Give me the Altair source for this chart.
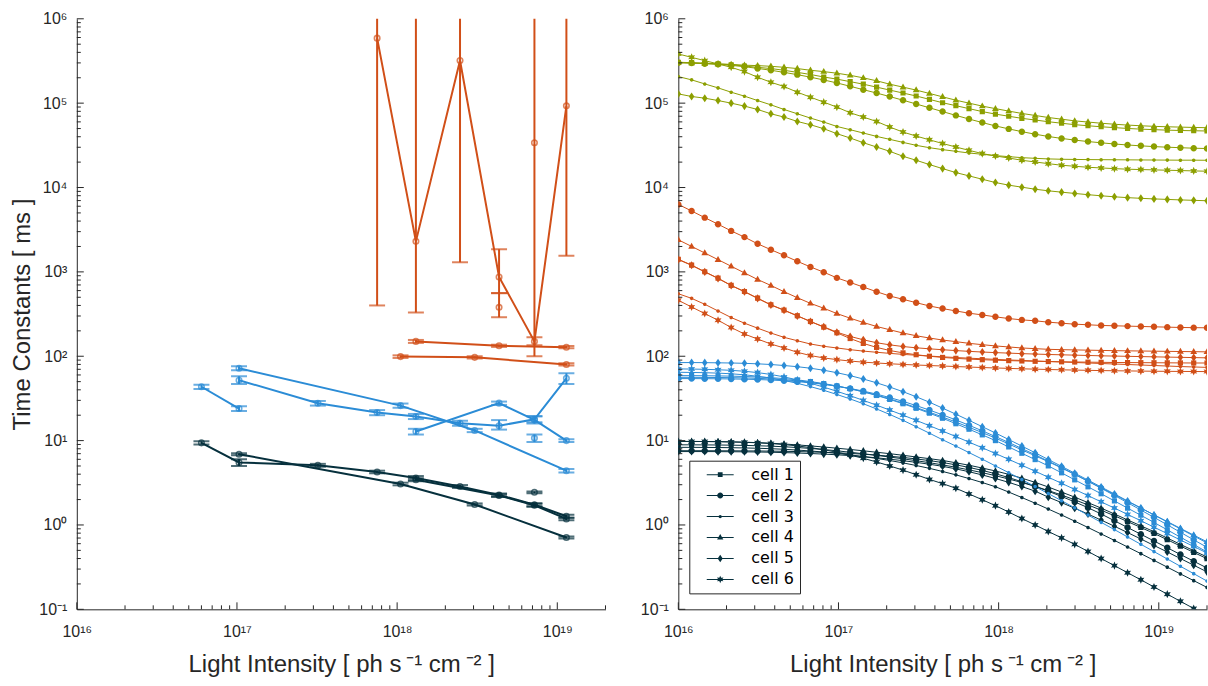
import math
import altair as alt
import pandas as pd

DARK = "#06303d"
BLUE = "#2b8cd6"
ORANGE = "#d14f18"
GREEN = "#8c9f00"
AX = "#262626"

CELLS = ["cell 1", "cell 2", "cell 3", "cell 4", "cell 5", "cell 6"]

# ---------------- right panel: sampled light intensities (log10) ----------------
X_EXP = [16.000, 16.083, 16.165, 16.248, 16.330, 16.413, 16.495, 16.578, 16.660, 16.743,
         16.825, 16.908, 16.990, 17.073, 17.155, 17.238, 17.320, 17.403, 17.485, 17.568,
         17.650, 17.733, 17.815, 17.898, 17.980, 18.063, 18.145, 18.228, 18.310, 18.393,
         18.475, 18.558, 18.640, 18.723, 18.805, 18.888, 18.970, 19.053, 19.135, 19.218, 19.301]

# log10 of time constants [ms]
GREEN_LOG = {
    "cell 1": [5.485, 5.48, 5.475, 5.465, 5.455, 5.44, 5.425, 5.41, 5.39, 5.365, 5.34,
               5.31, 5.285, 5.255, 5.225, 5.19, 5.155, 5.12, 5.085, 5.045, 5.005,
               4.97, 4.935, 4.90, 4.87, 4.845, 4.82, 4.80, 4.78, 4.762, 4.745,
               4.732, 4.72, 4.71, 4.70, 4.692, 4.686, 4.68, 4.676, 4.673, 4.67],
    "cell 2": [5.48, 5.475, 5.468, 5.46, 5.448, 5.432, 5.412, 5.39, 5.365, 5.338, 5.308,
               5.275, 5.24, 5.2, 5.16, 5.12, 5.078, 5.035, 4.99, 4.945, 4.90,
               4.855, 4.812, 4.77, 4.73, 4.695, 4.662, 4.632, 4.605, 4.582, 4.562,
               4.545, 4.53, 4.516, 4.504, 4.494, 4.485, 4.478, 4.472, 4.466, 4.462],
    "cell 3": [5.315, 5.276, 5.228, 5.181, 5.13, 5.083, 5.031, 4.98, 4.925, 4.874, 4.823,
               4.776, 4.724, 4.685, 4.646, 4.606, 4.571, 4.535, 4.5, 4.472, 4.449,
               4.429, 4.409, 4.394, 4.378, 4.366, 4.354, 4.346, 4.339, 4.335, 4.333,
               4.331, 4.33, 4.329, 4.328, 4.327, 4.326, 4.325, 4.324, 4.324, 4.323],
    "cell 4": [5.48, 5.475, 5.47, 5.465, 5.46, 5.45, 5.445, 5.437, 5.425, 5.41, 5.39,
               5.374, 5.355, 5.33, 5.30, 5.265, 5.225, 5.19, 5.155, 5.115, 5.075,
               5.035, 5.0, 4.965, 4.935, 4.906, 4.878, 4.854, 4.83, 4.81, 4.79,
               4.776, 4.762, 4.75, 4.74, 4.732, 4.725, 4.72, 4.716, 4.712, 4.709],
    "cell 5": [5.11, 5.079, 5.059, 5.031, 5.0, 4.965, 4.925, 4.874, 4.835, 4.783, 4.744,
               4.697, 4.638, 4.587, 4.531, 4.48, 4.429, 4.37, 4.323, 4.272, 4.224,
               4.177, 4.138, 4.098, 4.059, 4.028, 4.004, 3.98, 3.961, 3.945, 3.93,
               3.915, 3.902, 3.89, 3.88, 3.872, 3.865, 3.859, 3.853, 3.848, 3.843],
    "cell 6": [5.583, 5.543, 5.504, 5.465, 5.425, 5.374, 5.307, 5.248, 5.197, 5.13, 5.071,
               5.012, 4.953, 4.886, 4.835, 4.783, 4.717, 4.657, 4.61, 4.565, 4.522,
               4.48, 4.441, 4.402, 4.374, 4.35, 4.323, 4.303, 4.283, 4.264, 4.252,
               4.24, 4.232, 4.224, 4.217, 4.213, 4.209, 4.205, 4.201, 4.197, 4.193],
}

ORANGE_LOG = {
    "cell 1": [3.15, 3.08, 3.002, 2.925, 2.84, 2.767, 2.688, 2.61, 2.547, 2.48, 2.412,
               2.345, 2.278, 2.21, 2.152, 2.105, 2.068, 2.04, 2.018, 2.0, 1.986,
               1.975, 1.966, 1.959, 1.953, 1.948, 1.944, 1.94, 1.937, 1.934, 1.932,
               1.93, 1.928, 1.926, 1.925, 1.924, 1.923, 1.922, 1.921, 1.92, 1.92],
    "cell 2": [3.8, 3.722, 3.643, 3.565, 3.486, 3.412, 3.333, 3.263, 3.196, 3.125, 3.059,
               2.996, 2.929, 2.875, 2.82, 2.765, 2.714, 2.675, 2.635, 2.596, 2.565,
               2.537, 2.51, 2.49, 2.467, 2.447, 2.431, 2.42, 2.404, 2.392, 2.38,
               2.373, 2.365, 2.361, 2.357, 2.353, 2.349, 2.345, 2.341, 2.339, 2.337],
    "cell 3": [2.741, 2.686, 2.616, 2.537, 2.459, 2.392, 2.333, 2.275, 2.224, 2.184, 2.145,
               2.118, 2.098, 2.078, 2.061, 2.047, 2.034, 2.022, 2.012, 2.002, 1.993,
               1.985, 1.977, 1.97, 1.963, 1.956, 1.95, 1.944, 1.938, 1.932, 1.926,
               1.92, 1.914, 1.908, 1.902, 1.896, 1.89, 1.884, 1.878, 1.873, 1.868],
    "cell 4": [3.38, 3.302, 3.224, 3.145, 3.067, 2.988, 2.91, 2.839, 2.765, 2.694, 2.627,
               2.569, 2.506, 2.451, 2.4, 2.353, 2.314, 2.275, 2.243, 2.216, 2.192,
               2.173, 2.153, 2.137, 2.122, 2.11, 2.098, 2.09, 2.082, 2.078, 2.075,
               2.072, 2.069, 2.066, 2.064, 2.062, 2.06, 2.058, 2.056, 2.054, 2.052],
    "cell 5": [3.145, 3.078, 3.0, 2.922, 2.838, 2.765, 2.686, 2.608, 2.545, 2.478, 2.412,
               2.349, 2.285, 2.235, 2.195, 2.16, 2.135, 2.115, 2.10, 2.088, 2.077,
               2.067, 2.058, 2.05, 2.043, 2.037, 2.031, 2.026, 2.021, 2.017, 2.013,
               2.009, 2.005, 2.002, 1.999, 1.996, 1.993, 1.99, 1.987, 1.984, 1.981],
    "cell 6": [2.663, 2.584, 2.506, 2.427, 2.341, 2.263, 2.204, 2.145, 2.098, 2.047, 2.008,
               1.98, 1.96, 1.943, 1.93, 1.92, 1.911, 1.903, 1.896, 1.89, 1.884,
               1.878, 1.872, 1.866, 1.861, 1.856, 1.851, 1.847, 1.843, 1.839, 1.836,
               1.833, 1.83, 1.828, 1.826, 1.824, 1.822, 1.821, 1.82, 1.819, 1.818],
}

BLUE_LOG = {
    "cell 1": [1.77, 1.77, 1.769, 1.767, 1.764, 1.76, 1.754, 1.746, 1.735, 1.72, 1.70,
               1.676, 1.648, 1.615, 1.577, 1.535, 1.488, 1.437, 1.383, 1.325, 1.265,
               1.20, 1.135, 1.068, 1.0, 0.925, 0.85, 0.775, 0.70, 0.618, 0.535,
               0.452, 0.37, 0.285, 0.2, 0.115, 0.03, -0.058, -0.145, -0.232, -0.32],
    "cell 2": [1.735, 1.735, 1.734, 1.733, 1.731, 1.728, 1.724, 1.718, 1.71, 1.699, 1.685,
               1.667, 1.645, 1.618, 1.587, 1.551, 1.51, 1.465, 1.415, 1.362, 1.305,
               1.245, 1.182, 1.116, 1.048, 0.978, 0.906, 0.832, 0.757, 0.68, 0.60,
               0.518, 0.435, 0.35, 0.264, 0.177, 0.09, 0.002, -0.087, -0.176, -0.265],
    "cell 3": [1.81, 1.808, 1.805, 1.80, 1.792, 1.78, 1.763, 1.741, 1.713, 1.679, 1.64,
               1.596, 1.547, 1.494, 1.437, 1.375, 1.31, 1.24, 1.165, 1.088, 1.01,
               0.935, 0.858, 0.78, 0.70, 0.62, 0.538, 0.455, 0.372, 0.288, 0.203,
               0.117, 0.031, -0.055, -0.142, -0.229, -0.316, -0.403, -0.49, -0.577, -0.665],
    "cell 4": [1.75, 1.75, 1.749, 1.748, 1.746, 1.743, 1.738, 1.731, 1.721, 1.708, 1.691,
               1.67, 1.645, 1.615, 1.58, 1.54, 1.495, 1.445, 1.392, 1.337, 1.28,
               1.22, 1.158, 1.095, 1.03, 0.96, 0.89, 0.82, 0.75, 0.675, 0.60,
               0.52, 0.44, 0.36, 0.28, 0.20, 0.12, 0.04, -0.04, -0.12, -0.20],
    "cell 5": [1.925, 1.925, 1.924, 1.922, 1.92, 1.916, 1.91, 1.902, 1.89, 1.876, 1.858,
               1.834, 1.805, 1.77, 1.73, 1.685, 1.635, 1.58, 1.52, 1.455, 1.385,
               1.313, 1.24, 1.165, 1.09, 1.013, 0.935, 0.856, 0.776, 0.695, 0.614,
               0.532, 0.45, 0.368, 0.285, 0.202, 0.119, 0.036, -0.047, -0.13, -0.213],
    "cell 6": [1.85, 1.848, 1.845, 1.84, 1.833, 1.822, 1.806, 1.784, 1.755, 1.72, 1.68,
               1.634, 1.585, 1.532, 1.477, 1.42, 1.362, 1.302, 1.24, 1.177, 1.113,
               1.048, 0.982, 0.915, 0.847, 0.778, 0.708, 0.637, 0.566, 0.494, 0.421,
               0.348, 0.274, 0.2, 0.125, 0.05, -0.026, -0.102, -0.178, -0.255, -0.332],
}

DARK_LOG = {
    "cell 1": [0.95, 0.95, 0.949, 0.948, 0.946, 0.943, 0.939, 0.934, 0.927, 0.918, 0.907,
               0.894, 0.879, 0.862, 0.844, 0.825, 0.805, 0.784, 0.762, 0.738, 0.712,
               0.684, 0.653, 0.62, 0.584, 0.545, 0.503, 0.457, 0.408, 0.355, 0.298,
               0.238, 0.175, 0.109, 0.04, -0.03, -0.10, -0.175, -0.25, -0.325, -0.40],
    "cell 2": [0.88, 0.88, 0.88, 0.879, 0.879, 0.878, 0.877, 0.875, 0.873, 0.87, 0.866,
               0.861, 0.855, 0.848, 0.839, 0.828, 0.815, 0.80, 0.783, 0.763, 0.74,
               0.713, 0.682, 0.647, 0.607, 0.562, 0.512, 0.458, 0.40, 0.338, 0.273,
               0.205, 0.13, 0.05, -0.03, -0.11, -0.19, -0.27, -0.35, -0.43, -0.51],
    "cell 3": [0.92, 0.92, 0.919, 0.918, 0.916, 0.913, 0.909, 0.904, 0.897, 0.888, 0.877,
               0.864, 0.849, 0.831, 0.811, 0.789, 0.764, 0.736, 0.705, 0.671, 0.634,
               0.594, 0.55, 0.503, 0.453, 0.39, 0.325, 0.258, 0.189, 0.118, 0.045,
               -0.03, -0.106, -0.183, -0.261, -0.34, -0.42, -0.5, -0.58, -0.66, -0.74],
    "cell 4": [0.99, 0.99, 0.989, 0.988, 0.985, 0.981, 0.976, 0.969, 0.96, 0.949, 0.937,
               0.924, 0.91, 0.895, 0.879, 0.862, 0.845, 0.826, 0.806, 0.786, 0.765,
               0.737, 0.708, 0.675, 0.64, 0.60, 0.555, 0.505, 0.45, 0.39, 0.33,
               0.265, 0.20, 0.13, 0.06, -0.01, -0.08, -0.155, -0.23, -0.305, -0.38],
    "cell 5": [0.87, 0.87, 0.87, 0.869, 0.868, 0.867, 0.865, 0.862, 0.858, 0.853, 0.847,
               0.84, 0.832, 0.822, 0.81, 0.796, 0.78, 0.762, 0.742, 0.72, 0.695,
               0.665, 0.631, 0.593, 0.551, 0.505, 0.455, 0.401, 0.33, 0.265, 0.198,
               0.129, 0.058, -0.015, -0.09, -0.166, -0.243, -0.32, -0.398, -0.477, -0.556],
    "cell 6": [0.99, 0.99, 0.989, 0.987, 0.984, 0.98, 0.974, 0.965, 0.953, 0.937, 0.917,
               0.892, 0.862, 0.828, 0.79, 0.747, 0.70, 0.65, 0.596, 0.54, 0.49,
               0.435, 0.368, 0.299, 0.229, 0.153, 0.076, 0.0, -0.077, -0.153, -0.23,
               -0.314, -0.398, -0.482, -0.566, -0.65, -0.735, -0.82, -0.905, -0.99, -1.075],
}

# ---------------- left panel: fitted constants with error bars ----------------
# (series, colour group, intensities, value, lower, upper)
LEFT_SERIES = [
    ("o_wild", "orange", [7.5e17, 1.31e18, 2.47e18, 4.33e18, 7.2e18, 1.14e19],
     [5.9e5, 2.3e3, 3.2e5, 870, 150, 9.3e4],
     [400, 330, 1300, 560, 135, 1550],
     [2e6, 2e6, 2e6, 1850, 168, 2e6]),
    ("o_iso1", "orange", [4.33e18], [380], [290], [560]),
    ("o_iso2", "orange", [7.2e18], [3.4e4], [100], [2e6]),
    ("o_1", "orange", [1.31e18, 4.33e18, 1.14e19], [150, 133, 128], [144, 129, 124], [156, 137, 132]),
    ("o_2", "orange", [1.05e18, 3.05e18, 1.14e19], [99, 97, 80], [95.5, 94, 77.5], [102.5, 100, 82.5]),
    ("b_a", "blue", [6.0e16, 1.03e17], [43.5, 24], [41, 22.5], [46, 25.5]),
    ("b_b", "blue", [1.03e17, 1.05e18, 3.05e18, 1.14e19], [72, 26, 13.2, 4.4],
     [68, 24.5, 12.6, 4.2], [76, 27.5, 13.8, 4.6]),
    ("b_c", "blue", [1.03e17, 3.2e17, 7.5e17, 1.31e18, 2.47e18, 4.33e18, 7.2e18, 1.14e19],
     [52, 27.7, 21.5, 19.3, 16.1, 15, 17.9, 54.8],
     [47, 26, 20, 18, 15, 13.5, 16.5, 47],
     [58, 29.5, 23, 20.7, 17.2, 17.5, 19.5, 63]),
    ("b_d", "blue", [1.31e18, 4.33e18, 7.2e18, 1.14e19], [12.8, 27.8, 17.6, 10],
     [11.8, 26.5, 16, 9.6], [13.8, 29, 19.5, 10.4]),
    ("b_iso", "blue", [7.2e18], [10.7], [9.6], [11.8]),
    ("d_a", "dark", [6.0e16, 1.03e17, 3.2e17, 7.5e17, 1.31e18, 2.47e18, 4.33e18, 7.2e18, 1.14e19],
     [9.4, 5.5, 5.1, 4.25, 3.6, 2.86, 2.27, 1.74, 1.27],
     [9.0, 5.0, 4.9, 4.1, 3.4, 2.75, 2.18, 1.67, 1.22],
     [9.8, 6.0, 5.3, 4.4, 3.8, 2.97, 2.36, 1.81, 1.32]),
    ("d_b", "dark", [1.03e17, 1.05e18, 3.05e18, 1.14e19], [6.9, 3.06, 1.75, 0.71],
     [6.7, 2.95, 1.7, 0.69], [7.1, 3.17, 1.8, 0.73]),
    ("d_c", "dark", [1.31e18, 4.33e18, 7.2e18, 1.14e19], [3.44, 2.23, 1.71, 1.18],
     [3.3, 2.15, 1.64, 1.14], [3.58, 2.31, 1.78, 1.22]),
    ("d_iso", "dark", [7.2e18], [2.44], [2.38], [2.5]),
]

# ---------------- build tables ----------------
right_rows = []
for grp, table in [("dark", DARK_LOG), ("blue", BLUE_LOG), ("orange", ORANGE_LOG), ("green", GREEN_LOG)]:
    for cell, vals in table.items():
        for xe, v in zip(X_EXP, vals):
            right_rows.append({"x": 10 ** xe, "tau": 10 ** v, "group": grp,
                               "cell": cell, "series": grp + "-" + cell})
right_df = pd.DataFrame(right_rows)

left_rows = []
for name, grp, xs, ys, los, his in LEFT_SERIES:
    for x, y, lo, hi in zip(xs, ys, los, his):
        left_rows.append({"x": x, "tau": y, "lo": lo, "hi": hi, "group": grp, "series": name})
left_df = pd.DataFrame(left_rows)

Y_MAJOR = [0.1, 1, 10, 100, 1e3, 1e4, 1e5, 1e6]
Y_MINOR = [m * 10.0 ** e for e in range(-1, 6) for m in range(2, 10)]
X_MAJOR = [1e16, 1e17, 1e18, 1e19]
X_MINOR = [m * 10.0 ** e for e in range(16, 19) for m in range(2, 10)] + [2e19]

SUP = str.maketrans("-0123456789", "⁻⁰¹²³⁴⁵⁶⁷⁸⁹")


def label_expr(exps):
    parts = [f"round(log(datum.value)/LN10) == {e} ? '10{str(e).translate(SUP)}'" for e in exps[:-1]]
    return " : ".join(parts) + f" : '10{str(exps[-1]).translate(SUP)}'"


W, H = 530, 592
FONT = "Liberation Sans"
TICK_FS = 16
TITLE_FS = 24

xscale = alt.Scale(type="log", domain=[1e16, 2e19], nice=False)
yscale = alt.Scale(type="log", domain=[0.1, 1e6], nice=False)
color_scale = alt.Scale(domain=["dark", "blue", "orange", "green"], range=[DARK, BLUE, ORANGE, GREEN])


def x_axis():
    return alt.Axis(values=X_MAJOR, labelExpr=label_expr([16, 17, 18, 19]), ticks=False, grid=False,
                    domainColor=AX, domainWidth=1, labelColor=AX, labelFont=FONT, labelFontSize=TICK_FS,
                    labelPadding=14, labelFlush=False, labelOverlap=False,
                    title="Light Intensity [ ph s\u2009⁻¹ cm\u2009⁻² ]", titleFont=FONT, titleFontSize=TITLE_FS,
                    titleFontWeight="normal", titleColor=AX, titlePadding=13)


def y_axis(with_title):
    kw = dict(values=Y_MAJOR, labelExpr=label_expr([-1, 0, 1, 2, 3, 4, 5, 6]), ticks=False, grid=False,
              domainColor=AX, domainWidth=1, labelColor=AX, labelFont=FONT, labelFontSize=TICK_FS,
              labelPadding=10, labelFlush=False, labelOverlap=False)
    if with_title:
        kw.update(title="Time Constants [ ms ]", titleFont=FONT, titleFontSize=TITLE_FS,
                  titleFontWeight="normal", titleColor=AX, titlePadding=4)
    else:
        kw.update(title="")
    return alt.Axis(**kw)


def tick_layers():
    ymaj = alt.Chart(pd.DataFrame({"v": Y_MAJOR})).mark_rule(color=AX, strokeWidth=1).encode(
        y=alt.Y("v:Q", scale=yscale), x=alt.value(0), x2=alt.value(7))
    ymin = alt.Chart(pd.DataFrame({"v": Y_MINOR})).mark_rule(color=AX, strokeWidth=1).encode(
        y=alt.Y("v:Q", scale=yscale), x=alt.value(0), x2=alt.value(4))
    xmaj = alt.Chart(pd.DataFrame({"v": X_MAJOR})).mark_rule(color=AX, strokeWidth=1).encode(
        x=alt.X("v:Q", scale=xscale), y=alt.value(H), y2=alt.value(H - 7))
    xmin = alt.Chart(pd.DataFrame({"v": X_MINOR})).mark_rule(color=AX, strokeWidth=1).encode(
        x=alt.X("v:Q", scale=xscale), y=alt.value(H), y2=alt.value(H - 4))
    return [ymaj, ymin, xmaj, xmin]


# ---------------- marker shapes ----------------
def circle_path(r):
    return f"M{r},0A{r},{r},0,1,1,{-r},0A{r},{r},0,1,1,{r},0Z"


def star_path(ro, ri):
    pts = []
    for i in range(12):
        ang = math.radians(-90 + 30 * i)
        r = ro if i % 2 == 0 else ri
        pts.append(f"{r * math.cos(ang):.3f},{r * math.sin(ang):.3f}")
    return "M" + "L".join(pts) + "Z"


MARKERS = [
    "M-0.8,-0.8H0.8V0.8H-0.8Z",
    circle_path(1.0),
    circle_path(0.55),
    "M0,-1.15L1.05,0.7L-1.05,0.7Z",
    "M0,-1.25L0.85,0L0,1.25L-0.85,0Z",
    star_path(1.25, 0.62),
]
LINE_SEG = "M-4.5,-0.17H4.5V0.17H-4.5Z"
LEGEND_SYMBOLS = [LINE_SEG + m for m in MARKERS]

# ---------------- left panel ----------------
lbase = alt.Chart(left_df)
lx = alt.X("x:Q", scale=xscale, axis=x_axis())
lxn = alt.X("x:Q", scale=xscale)
lcol = alt.Color("group:N", scale=color_scale, legend=None)

l_lines = lbase.mark_line(strokeWidth=2, clip=True).encode(
    x=lx, y=alt.Y("tau:Q", scale=yscale, axis=y_axis(True)), color=lcol, detail="series:N")
l_bars = lbase.mark_rule(strokeWidth=2, clip=True).encode(
    x=lxn, y=alt.Y("lo:Q", scale=yscale), y2="hi:Q", color=lcol)
l_cap_lo = lbase.mark_tick(orient="horizontal", size=16, thickness=2, clip=True).encode(
    x=lxn, y=alt.Y("lo:Q", scale=yscale), color=lcol)
l_cap_hi = lbase.mark_tick(orient="horizontal", size=16, thickness=2, clip=True).encode(
    x=lxn, y=alt.Y("hi:Q", scale=yscale), color=lcol)
l_pts = lbase.mark_point(shape="circle", filled=False, size=30, strokeWidth=1.6, clip=True).encode(
    x=lxn, y=alt.Y("tau:Q", scale=yscale), color=lcol)

left = alt.layer(l_lines, l_bars, l_cap_lo, l_cap_hi, l_pts, *tick_layers()).properties(width=W, height=H)

# ---------------- right panel ----------------
rbase = alt.Chart(right_df)
rx = alt.X("x:Q", scale=xscale, axis=x_axis())
rxn = alt.X("x:Q", scale=xscale)
rcol = alt.Color("group:N", scale=color_scale, legend=None)

r_lines = rbase.mark_line(strokeWidth=1, clip=True).encode(
    x=rx, y=alt.Y("tau:Q", scale=yscale, axis=y_axis(False)), color=rcol, detail="series:N")
r_pts = rbase.mark_point(filled=True, size=42, opacity=1, clip=True).encode(
    x=rxn, y=alt.Y("tau:Q", scale=yscale), color=rcol,
    shape=alt.Shape("cell:N", scale=alt.Scale(domain=CELLS, range=MARKERS), legend=None))
r_leg = rbase.mark_point(filled=True, size=36, opacity=0, color=DARK, clip=True).encode(
    x=rxn, y=alt.Y("tau:Q", scale=yscale),
    shape=alt.Shape("cell:N", scale=alt.Scale(domain=CELLS, range=LEGEND_SYMBOLS),
                    legend=alt.Legend(orient="none", legendX=11, legendY=443, title=None,
                                      fillColor="white", strokeColor=AX, padding=6,
                                      labelFont="DejaVu Sans", labelFontSize=16, labelColor="black",
                                      labelExpr="datum.label + '\u00a0\u00a0\u00a0\u00a0\u00a0\u00a0\u00a0'",
                                      symbolSize=36, symbolStrokeWidth=0, symbolFillColor=DARK,
                                      symbolStrokeColor=DARK, symbolOpacity=1, symbolOffset=17,
                                      labelOffset=23, rowPadding=5)))

right = alt.layer(r_lines, r_pts, r_leg, *tick_layers()).resolve_scale(shape="independent").properties(
    width=W, height=H)

chart = alt.hconcat(left, right, spacing=33).properties(
    padding={"left": 10, "top": 10, "right": 0, "bottom": 0}, background="white"
).configure(font=FONT).configure_view(stroke=None)

chart.save("out.html", embed_options={"renderer": "svg", "actions": False})
